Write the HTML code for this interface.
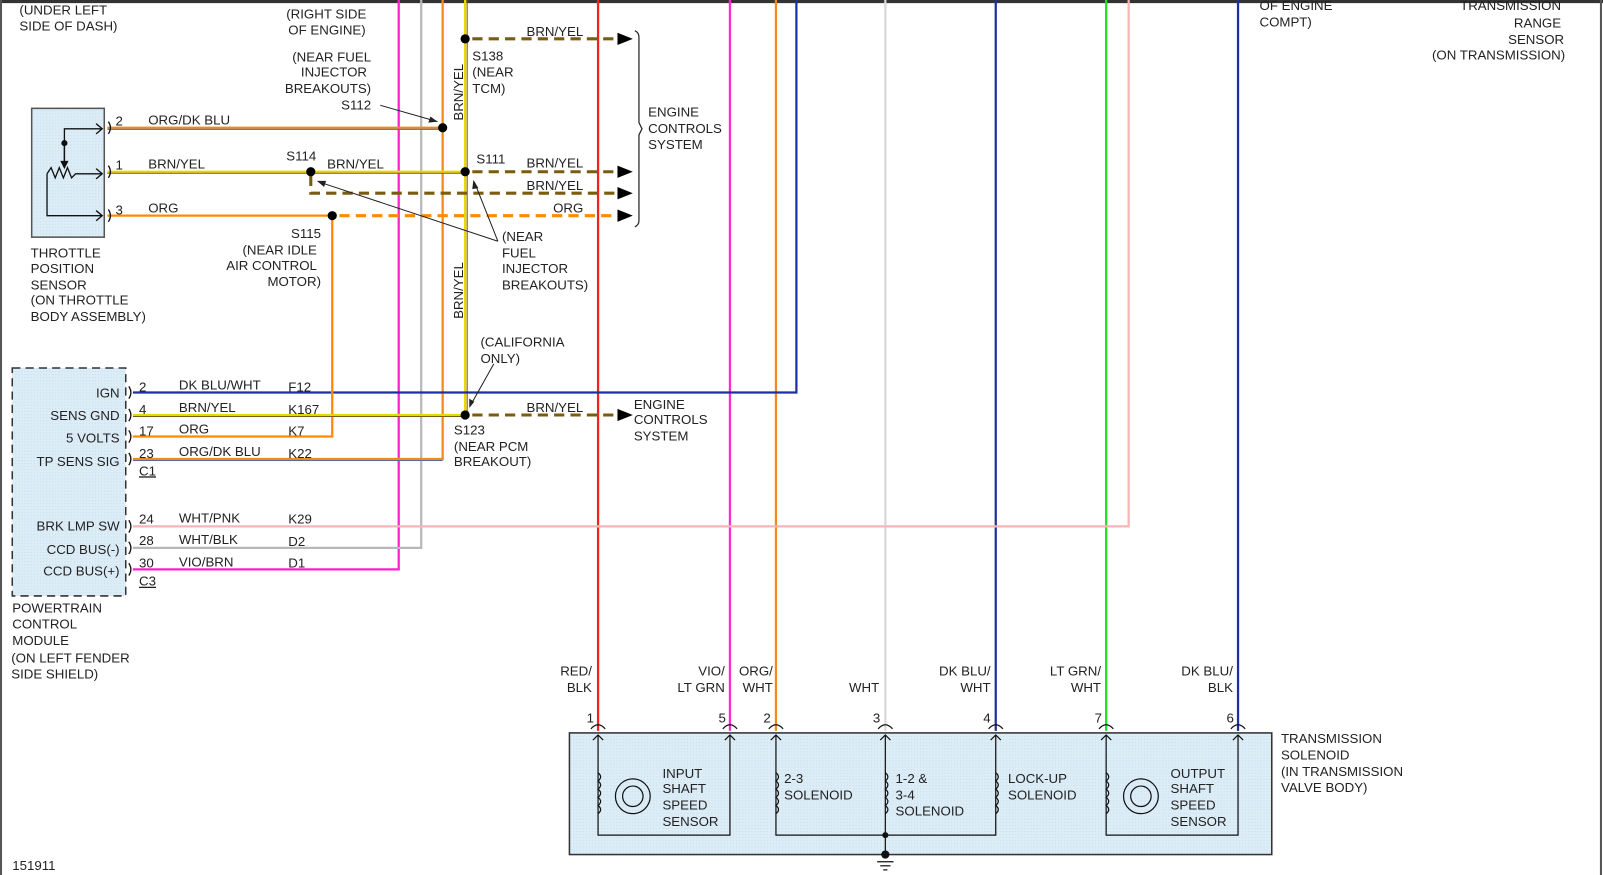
<!DOCTYPE html>
<html><head><meta charset="utf-8"><style>
html,body{margin:0;padding:0;background:#fff;}
svg{display:block;}
text{font-family:"Liberation Sans",Arial,sans-serif;font-size:13px;fill:#222;}
</style></head><body>
<svg width="1603" height="875" viewBox="0 0 1568 856" preserveAspectRatio="none" xmlns="http://www.w3.org/2000/svg">
<defs>
<pattern id="dots" width="3" height="3" patternUnits="userSpaceOnUse"><rect width="3" height="3" fill="#dcedf7"/><rect width="1" height="1" fill="#c8dcea"/></pattern>
</defs>
<rect x="0" y="0" width="1568" height="856" fill="#fff"/>
<line x1="0" y1="1.5" x2="1568" y2="1.5" stroke="#333" stroke-width="3"/>
<line x1="1" y1="0" x2="1" y2="856" stroke="#555" stroke-width="2"/>
<line x1="1566" y1="0" x2="1566" y2="856" stroke="#555" stroke-width="2"/>

<!-- boxes -->
<rect x="31" y="106" width="71" height="126" fill="url(#dots)" stroke="#555" stroke-width="1.5"/>
<rect x="12" y="360" width="111" height="223" fill="url(#dots)" stroke="#333" stroke-width="1.5" stroke-dasharray="8,5"/>
<rect x="557" y="717" width="687" height="119" fill="url(#dots)" stroke="#333" stroke-width="1.5"/>

<!-- vertical wires -->
<g fill="none" stroke-width="2.2">
<polyline points="390,0 390,557 130,557" stroke="#ff1fd0"/>
<polyline points="412,0 412,536 130,536" stroke="#b8b8b8"/>
<polyline points="433,0 433,449 130,449" stroke="#f28a1a"/>
<line x1="130" y1="450.5" x2="433" y2="450.5" stroke="#5a6aa0" stroke-width="1"/>
<line x1="455" y1="0" x2="455" y2="406" stroke="#e8d800"/>
<line x1="457" y1="0" x2="457" y2="406" stroke="#7a5c10" stroke-width="1"/>
<line x1="585" y1="0" x2="585" y2="715" stroke="#f22020"/>
<line x1="714" y1="0" x2="714" y2="715" stroke="#ff2ad8"/>
<line x1="759" y1="0" x2="759" y2="715" stroke="#f28a1a"/>
<line x1="866" y1="0" x2="866" y2="715" stroke="#d8d8d8"/>
<line x1="974" y1="0" x2="974" y2="715" stroke="#1e2fa0"/>
<line x1="1082" y1="0" x2="1082" y2="715" stroke="#22e022"/>
<polyline points="1104,0 1104,515 130,515" stroke="#f4b6b6"/>
<line x1="1211" y1="0" x2="1211" y2="715" stroke="#1e2fa0"/>
<polyline points="779,0 779,384 130,384" stroke="#1e2fa0"/>
<polyline points="325,211 325,427 130,427" stroke="#ff8a00"/>
<!-- TPS wires -->
<line x1="105" y1="125" x2="433" y2="125" stroke="#f28a1a"/>
<line x1="105" y1="126.5" x2="433" y2="126.5" stroke="#5a6aa0" stroke-width="1"/>
<line x1="105" y1="168" x2="455" y2="168" stroke="#e8d800"/>
<line x1="105" y1="169.5" x2="455" y2="169.5" stroke="#7a5c10" stroke-width="1"/>
<line x1="105" y1="211" x2="325" y2="211" stroke="#ff8a00"/>
<line x1="130" y1="406" x2="455" y2="406" stroke="#e8d800"/>
<line x1="130" y1="407.5" x2="455" y2="407.5" stroke="#7a5c10" stroke-width="1"/>
<!-- dashed -->
<g stroke-dasharray="10,6" stroke-width="3">
<line x1="462" y1="38" x2="606" y2="38" stroke="#7a5c10"/>
<line x1="462" y1="168" x2="606" y2="168" stroke="#7a5c10"/>
<polyline points="304,172 304,189 606,189" stroke="#7a5c10"/>
<line x1="332" y1="211" x2="606" y2="211" stroke="#ff8a00"/>
<line x1="462" y1="406" x2="606" y2="406" stroke="#7a5c10"/>
</g>
</g>
<!-- arrowheads -->
<g fill="#000">
<polygon points="604,32 619,38 604,44"/>
<polygon points="604,162 619,168 604,174"/>
<polygon points="604,183 619,189 604,195"/>
<polygon points="604,205 619,211 604,217"/>
<polygon points="604,400 619,406 604,412"/>
</g>
<path d="M621,30 q4,2 4,6 v84 l3,6 l-3,6 v84 q0,4 -4,6" fill="none" stroke="#222" stroke-width="1.2"/>
<!-- splice dots -->
<g fill="#000">
<circle cx="455" cy="38" r="4.5"/><circle cx="433" cy="125" r="4.5"/><circle cx="304" cy="168" r="4.5"/>
<circle cx="455" cy="168" r="4.5"/><circle cx="325" cy="211" r="4.5"/><circle cx="455" cy="406" r="4.5"/>
</g>
<!-- leader arrows -->
<g stroke="#222" stroke-width="1" fill="none">
<line x1="372" y1="103" x2="428" y2="119"/>
<line x1="487" y1="236" x2="312" y2="178"/>
<line x1="487" y1="236" x2="464" y2="178"/>
<line x1="483" y1="356" x2="460" y2="397"/>
</g>
<g fill="#222">
<polygon points="428,119 419,120 421,114"/>
<polygon points="310,177 319,177 317,183"/>
<polygon points="463,176 468,184 462,185"/>
<polygon points="459,399 459,390 464,393"/>
</g>
<!-- TPS internals -->
<g stroke="#111" stroke-width="1.3" fill="none">
<polyline points="63,160 63,126 100,126"/><polyline points="94,121 100,126 94,131"/>
<line x1="63" y1="140" x2="63" y2="160"/><polygon points="60,158 66,158 63,164" fill="#111"/>
<polyline points="46,170 50,164 54,174 58,164 62,174 66,164 70,174 74,170 100,170"/><polyline points="94,165 100,170 94,175"/>
<polyline points="46,170 46,211 100,211"/><polyline points="94,206 100,211 94,216"/>
<path d="M106,119 q4,6 0,12 M106,162 q4,6 0,12 M106,205 q4,6 0,12"/>
<path d="M126,378 q4,6 0,12 M126,400 q4,6 0,12 M126,421 q4,6 0,12 M126,443 q4,6 0,12 M126,509 q4,6 0,12 M126,530 q4,6 0,12 M126,551 q4,6 0,12"/>
</g>
<circle cx="63" cy="140" r="3" fill="#111"/>
<!-- transmission internals -->
<g stroke="#111" stroke-width="1.2" fill="none">
<path d="M578,713 q7,-8 14,0 M707,713 q7,-8 14,0 M752,713 q7,-8 14,0 M859,713 q7,-8 14,0 M967,713 q7,-8 14,0 M1075,713 q7,-8 14,0 M1204,713 q7,-8 14,0"/>
<polyline points="585,720 585,817 714,817 714,720"/>
<polyline points="759,720 759,817 974,817 974,720"/>
<line x1="866" y1="720" x2="866" y2="836"/>
<polyline points="1082,720 1082,817 1211,817 1211,720"/>
<path d="M580,724 l5,-5 l5,5 M709,724 l5,-5 l5,5 M754,724 l5,-5 l5,5 M861,724 l5,-5 l5,5 M969,724 l5,-5 l5,5 M1077,724 l5,-5 l5,5 M1206,724 l5,-5 l5,5"/>
<path d="M585,756 q5,4 0,8 q5,4 0,8 q5,4 0,8 q5,4 0,8 q5,4 0,8 M759,756 q5,4 0,8 q5,4 0,8 q5,4 0,8 q5,4 0,8 q5,4 0,8 M866,756 q5,4 0,8 q5,4 0,8 q5,4 0,8 q5,4 0,8 q5,4 0,8 M974,756 q5,4 0,8 q5,4 0,8 q5,4 0,8 q5,4 0,8 q5,4 0,8 M1082,756 q5,4 0,8 q5,4 0,8 q5,4 0,8 q5,4 0,8 q5,4 0,8"/>
<circle cx="619" cy="779" r="17"/><circle cx="619" cy="779" r="10"/>
<circle cx="1116" cy="779" r="17"/><circle cx="1116" cy="779" r="10"/>
<line x1="858" y1="843" x2="874" y2="843"/><line x1="861" y1="847" x2="871" y2="847"/><line x1="864" y1="851" x2="868" y2="851"/>
</g>
<circle cx="866" cy="817" r="3" fill="#111"/><circle cx="866" cy="836" r="4" fill="#111"/>

<!-- text -->
<text x="19" y="14">(UNDER LEFT</text><text x="19" y="30">SIDE OF DASH)</text>
<text x="280" y="18">(RIGHT SIDE</text><text x="282" y="34">OF ENGINE)</text>
<text x="363" y="60" text-anchor="end">(NEAR FUEL</text><text x="359" y="75" text-anchor="end">INJECTOR</text><text x="363" y="91" text-anchor="end">BREAKOUTS)</text><text x="363" y="107" text-anchor="end">S112</text>
<text x="145" y="122">ORG/DK BLU</text><text x="113" y="123">2</text>
<text x="145" y="165">BRN/YEL</text><text x="113" y="166">1</text>
<text x="145" y="208">ORG</text><text x="113" y="210">3</text>
<text x="280" y="157">S114</text><text x="320" y="165">BRN/YEL</text>
<text x="314" y="233" text-anchor="end">S115</text><text x="310" y="249" text-anchor="end">(NEAR IDLE</text><text x="310" y="264" text-anchor="end">AIR CONTROL</text><text x="314" y="280" text-anchor="end">MOTOR)</text>
<text x="30" y="252">THROTTLE</text><text x="30" y="267">POSITION</text><text x="30" y="283">SENSOR</text><text x="30" y="298">(ON THROTTLE</text><text x="30" y="314">BODY ASSEMBLY)</text>
<text x="462" y="59">S138</text><text x="462" y="75">(NEAR</text><text x="462" y="91">TCM)</text>
<text x="466" y="160">S111</text>
<text x="515" y="35">BRN/YEL</text><text x="515" y="164">BRN/YEL</text><text x="515" y="186">BRN/YEL</text><text x="541" y="208">ORG</text><text x="515" y="403">BRN/YEL</text>
<text transform="translate(453,118) rotate(-90)">BRN/YEL</text>
<text transform="translate(453,312) rotate(-90)">BRN/YEL</text>
<text x="491" y="236">(NEAR</text><text x="491" y="252">FUEL</text><text x="491" y="267">INJECTOR</text><text x="491" y="283">BREAKOUTS)</text>
<text x="634" y="114">ENGINE</text><text x="634" y="130">CONTROLS</text><text x="634" y="146">SYSTEM</text>
<text x="470" y="339">(CALIFORNIA</text><text x="470" y="355">ONLY)</text>
<text x="444" y="425">S123</text><text x="444" y="441">(NEAR PCM</text><text x="444" y="456">BREAKOUT)</text>
<text x="620" y="400">ENGINE</text><text x="620" y="415">CONTROLS</text><text x="620" y="431">SYSTEM</text>
<g text-anchor="end"><text x="117" y="389">IGN</text><text x="117" y="411">SENS GND</text><text x="117" y="433">5 VOLTS</text><text x="117" y="456">TP SENS SIG</text>
<text x="117" y="519">BRK LMP SW</text><text x="117" y="542">CCD BUS(-)</text><text x="117" y="563">CCD BUS(+)</text></g>
<g font-size="12"><text x="136" y="383">2</text><text x="136" y="405">4</text><text x="136" y="426">17</text><text x="136" y="448">23</text>
<text x="136" y="512">24</text><text x="136" y="533">28</text><text x="136" y="555">30</text></g>
<text x="136" y="465" text-decoration="underline">C1</text><text x="136" y="573" text-decoration="underline">C3</text>
<text x="175" y="381">DK BLU/WHT</text><text x="175" y="403">BRN/YEL</text><text x="175" y="424">ORG</text><text x="175" y="446">ORG/DK BLU</text>
<text x="175" y="511">WHT/PNK</text><text x="175" y="532">WHT/BLK</text><text x="175" y="554">VIO/BRN</text>
<text x="282" y="383">F12</text><text x="282" y="405">K167</text><text x="282" y="426">K7</text><text x="282" y="448">K22</text>
<text x="282" y="512">K29</text><text x="282" y="534">D2</text><text x="282" y="555">D1</text>
<text x="12" y="599">POWERTRAIN</text><text x="12" y="615">CONTROL</text><text x="12" y="631">MODULE</text><text x="11" y="648">(ON LEFT FENDER</text><text x="11" y="664">SIDE SHIELD)</text>
<text x="12" y="851">151911</text>
<g text-anchor="end">
<text x="579" y="661">RED/</text><text x="579" y="677">BLK</text>
<text x="709" y="661">VIO/</text><text x="709" y="677">LT GRN</text>
<text x="756" y="661">ORG/</text><text x="756" y="677">WHT</text>
<text x="860" y="677">WHT</text>
<text x="969" y="661">DK BLU/</text><text x="969" y="677">WHT</text>
<text x="1077" y="661">LT GRN/</text><text x="1077" y="677">WHT</text>
<text x="1206" y="661">DK BLU/</text><text x="1206" y="677">BLK</text>
<text x="581" y="707">1</text><text x="710" y="707">5</text><text x="754" y="707">2</text><text x="861" y="707">3</text><text x="969" y="707">4</text><text x="1078" y="707">7</text><text x="1207" y="707">6</text>
</g>
<text x="648" y="761">INPUT</text><text x="648" y="776">SHAFT</text><text x="648" y="792">SPEED</text><text x="648" y="808">SENSOR</text>
<text x="767" y="766">2-3</text><text x="767" y="782">SOLENOID</text>
<text x="876" y="766">1-2 &amp;</text><text x="876" y="782">3-4</text><text x="876" y="798">SOLENOID</text>
<text x="986" y="766">LOCK-UP</text><text x="986" y="782">SOLENOID</text>
<text x="1145" y="761">OUTPUT</text><text x="1145" y="776">SHAFT</text><text x="1145" y="792">SPEED</text><text x="1145" y="808">SENSOR</text>
<text x="1253" y="727">TRANSMISSION</text><text x="1253" y="743">SOLENOID</text><text x="1253" y="759">(IN TRANSMISSION</text><text x="1253" y="775">VALVE BODY)</text>
<text x="1232" y="10">OF ENGINE</text><text x="1232" y="26">COMPT)</text>
<g text-anchor="end"><text x="1527" y="10">TRANSMISSION</text><text x="1527" y="27">RANGE</text><text x="1530" y="43">SENSOR</text><text x="1531" y="58">(ON TRANSMISSION)</text></g>
</svg>
</body></html>
